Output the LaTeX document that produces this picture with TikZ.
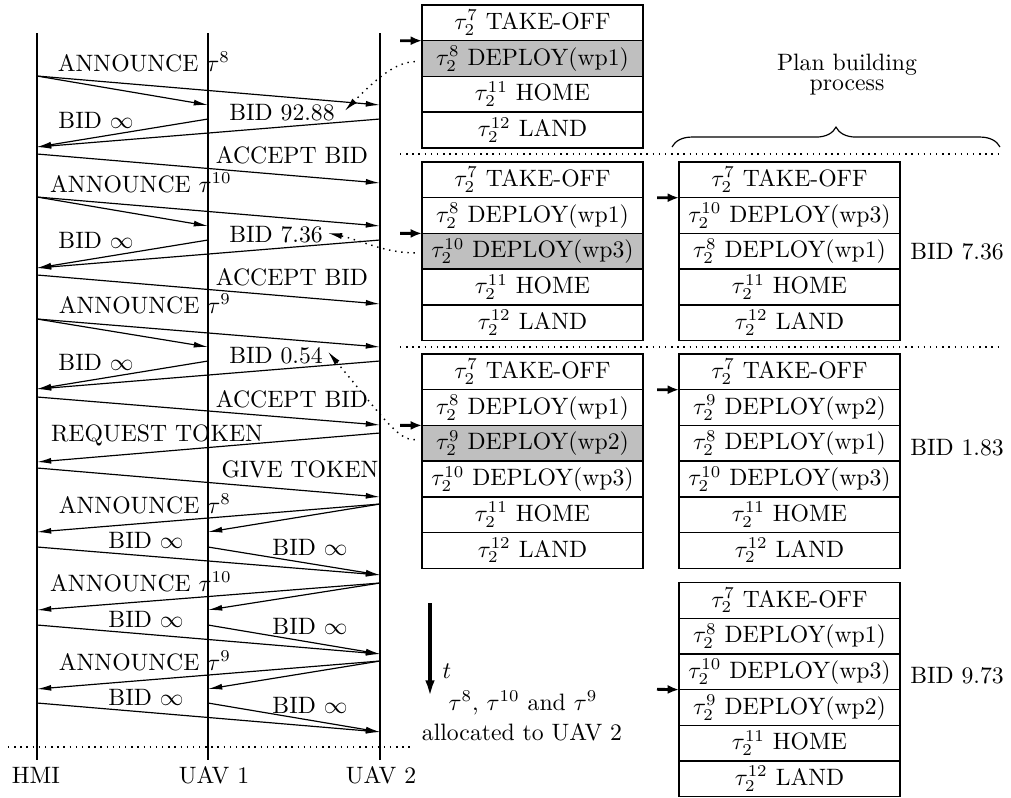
\documentclass[tikz,border=0pt]{standalone}
\usetikzlibrary{arrows.meta,decorations.pathreplacing}
\definecolor{cellgray}{gray}{0.75}
\begin{document}
\begin{tikzpicture}[x=0.422pt,y=-0.422pt,
  msg/.style={-{Latex[length=6pt,width=2.5pt]}, line width=0.5pt},
  life/.style={line width=0.5pt},
  lbl/.style={anchor=base, inner sep=0pt},
  row/.style={minimum width=93.26pt, minimum height=12pt, inner sep=0pt, outer sep=0pt},
  grid/.style={line width=0.6pt},
  ptr/.style={-{Latex[length=4.8pt,width=3.8pt]}, line width=1.2pt},
  sep/.style={dotted, line width=0.6pt},
  link/.style={dotted, line width=0.6pt, -{Latex[length=6pt,width=2.6pt]}},
  tarrow/.style={-{Latex[length=7pt,width=4pt]}, line width=1.4pt}
]
\useasboundingbox (0,0) rectangle (1011,797);

% lifelines
\coordinate (Htop) at (37,33);   \coordinate (Hbot) at (37,760);
\coordinate (U1top) at (208,33); \coordinate (U1bot) at (208,760);
\coordinate (U2top) at (380,33); \coordinate (U2bot) at (380,760);
\draw[life] (Htop) -- (Hbot);
\draw[life] (U1top) -- (U1bot);
\draw[life] (U2top) -- (U2bot);
\node[lbl] (nH) at (36,783) {HMI};
\node[lbl] (nU1) at (214,783) {UAV 1};
\node[lbl] (nU2) at (381,783) {UAV 2};

% messages
\foreach \n/\xa/\ya/\xb/\yb in {
  1/37/76/208/105, 2/37/76/380/105,
  3/208/119/37/147, 4/380/119/37/147,
  5/37/154/380/183,
  6/37/197/208/226, 7/37/197/380/226,
  8/208/240/37/268, 9/380/240/37/268,
  10/37/275/380/304,
  11/37/319/208/347, 12/37/319/380/347,
  13/208/361/37/389, 14/380/361/37/389,
  15/37/397/380/425,
  16/380/433/37/462,
  17/37/468/380/497,
  18/380/504/37/532, 19/380/504/208/532,
  20/37/547/380/575, 21/208/547/380/575,
  22/380/583/37/610, 23/380/583/208/610,
  24/37/625/380/654, 25/208/625/380/654,
  26/380/661/37/689, 27/380/661/208/689,
  28/37/703/380/732, 29/208/703/380/732}
{
  \coordinate (s\n) at (\xa,\ya);
  \coordinate (e\n) at (\xb,\yb);
  \draw[msg] (s\n) -- (e\n);
}

% message labels
\node[lbl] (m1) at (144,71) {ANNOUNCE $\tau^{8}$};
\node[lbl] (m2) at (96,128) {BID $\infty$};
\node[lbl] (bidA) at (282,120) {BID 92.88};
\node[lbl] (m3) at (292,163) {ACCEPT BID};
\node[lbl] (m4) at (141,192) {ANNOUNCE $\tau^{10}$};
\node[lbl] (m5) at (96,248) {BID $\infty$};
\node[lbl] (bidB) at (276,242) {BID 7.36};
\node[lbl] (m6) at (292,285) {ACCEPT BID};
\node[lbl] (m7) at (145,313) {ANNOUNCE $\tau^{9}$};
\node[lbl] (m8) at (96,370) {BID $\infty$};
\node[lbl] (bidC) at (276,363) {BID 0.54};
\node[lbl] (m9) at (292,407) {ACCEPT BID};
\node[lbl] (m10) at (157,441) {REQUEST TOKEN};
\node[lbl] (m11) at (300,477) {GIVE TOKEN};
\node[lbl] (m12) at (145,513) {ANNOUNCE $\tau^{8}$};
\node[lbl] (m13) at (146,548) {BID $\infty$};
\node[lbl] (m14) at (310,555) {BID $\infty$};
\node[lbl] (m15) at (141,591) {ANNOUNCE $\tau^{10}$};
\node[lbl] (m16) at (146,627) {BID $\infty$};
\node[lbl] (m17) at (310,634) {BID $\infty$};
\node[lbl] (m18) at (145,670) {ANNOUNCE $\tau^{9}$};
\node[lbl] (m19) at (146,705) {BID $\infty$};
\node[lbl] (m20) at (310,713) {BID $\infty$};

% separators
\draw[sep] (400,154) -- (1000,154);
\draw[sep] (400,347) -- (1000,347);
\draw[sep] (8,747) -- (410,747);

% table frames: x0 / top / rows / shaded row (0 = none)
\def\rh{35.7}
\foreach \xo/\yo/\nr/\hr in {422/5/4/2, 422/162/5/3, 679/162/5/0, 422/354/6/3, 679/354/6/0, 679/582.5/6/0}
{
  \ifnum\hr>0
    \fill[cellgray] (\xo,\yo+\rh*\hr-\rh) rectangle (\xo+221,\yo+\rh*\hr);
  \fi
  \draw[grid] (\xo,\yo) rectangle (\xo+221,\yo+\rh*\nr);
  \foreach \k in {1,...,\nr} { \draw[grid] (\xo,\yo+\rh*\k) -- (\xo+221,\yo+\rh*\k); }
}

% table 1
\node[row] (A1) at (532.5,22.85)  {$\tau_2^{7}$ TAKE-OFF};
\node[row] (A2) at (532.5,58.55)  {$\tau_2^{8}$ DEPLOY(wp1)};
\node[row] (A3) at (532.5,94.25)  {$\tau_2^{11}$ HOME};
\node[row] (A4) at (532.5,129.95) {$\tau_2^{12}$ LAND};

% table 2
\node[row] (B1) at (532.5,179.85) {$\tau_2^{7}$ TAKE-OFF};
\node[row] (B2) at (532.5,215.55) {$\tau_2^{8}$ DEPLOY(wp1)};
\node[row] (B3) at (532.5,251.25) {$\tau_2^{10}$ DEPLOY(wp3)};
\node[row] (B4) at (532.5,286.95) {$\tau_2^{11}$ HOME};
\node[row] (B5) at (532.5,322.65) {$\tau_2^{12}$ LAND};

% table 3
\node[row] (C1) at (789.5,179.85) {$\tau_2^{7}$ TAKE-OFF};
\node[row] (C2) at (789.5,215.55) {$\tau_2^{10}$ DEPLOY(wp3)};
\node[row] (C3) at (789.5,251.25) {$\tau_2^{8}$ DEPLOY(wp1)};
\node[row] (C4) at (789.5,286.95) {$\tau_2^{11}$ HOME};
\node[row] (C5) at (789.5,322.65) {$\tau_2^{12}$ LAND};

% table 4
\node[row] (D1) at (532.5,371.85) {$\tau_2^{7}$ TAKE-OFF};
\node[row] (D2) at (532.5,407.55) {$\tau_2^{8}$ DEPLOY(wp1)};
\node[row] (D3) at (532.5,443.25) {$\tau_2^{9}$ DEPLOY(wp2)};
\node[row] (D4) at (532.5,478.95) {$\tau_2^{10}$ DEPLOY(wp3)};
\node[row] (D5) at (532.5,514.65) {$\tau_2^{11}$ HOME};
\node[row] (D6) at (532.5,550.35) {$\tau_2^{12}$ LAND};

% table 5
\node[row] (E1) at (789.5,371.85) {$\tau_2^{7}$ TAKE-OFF};
\node[row] (E2) at (789.5,407.55) {$\tau_2^{9}$ DEPLOY(wp2)};
\node[row] (E3) at (789.5,443.25) {$\tau_2^{8}$ DEPLOY(wp1)};
\node[row] (E4) at (789.5,478.95) {$\tau_2^{10}$ DEPLOY(wp3)};
\node[row] (E5) at (789.5,514.65) {$\tau_2^{11}$ HOME};
\node[row] (E6) at (789.5,550.35) {$\tau_2^{12}$ LAND};

% table 6
\node[row] (F1) at (789.5,600.35) {$\tau_2^{7}$ TAKE-OFF};
\node[row] (F2) at (789.5,636.05) {$\tau_2^{8}$ DEPLOY(wp1)};
\node[row] (F3) at (789.5,671.75) {$\tau_2^{10}$ DEPLOY(wp3)};
\node[row] (F4) at (789.5,707.45) {$\tau_2^{9}$ DEPLOY(wp2)};
\node[row] (F5) at (789.5,743.15) {$\tau_2^{11}$ HOME};
\node[row] (F6) at (789.5,778.85) {$\tau_2^{12}$ LAND};

% insertion pointers (tip on the upper edge of the inserted row)
\coordinate (pA) at (400,40.7);  \draw[ptr] (pA) -- ([yshift=7.53pt]A2.west);
\coordinate (pB) at (400,233.4); \draw[ptr] (pB) -- ([yshift=7.53pt]B3.west);
\coordinate (pC) at (657,197.7); \draw[ptr] (pC) -- ([yshift=7.53pt]C2.west);
\coordinate (pD) at (400,425.4); \draw[ptr] (pD) -- ([yshift=7.53pt]D3.west);
\coordinate (pE) at (657,389.7); \draw[ptr] (pE) -- ([yshift=7.53pt]E2.west);
\coordinate (pF) at (657,689.3); \draw[ptr] (pF) -- ([yshift=7.53pt]F4.west);

% dotted links
\draw[link] ([xshift=-3pt,yshift=-1.3pt]A2.west) .. controls (395,62) and (375,80) .. ([xshift=4pt,yshift=0.5pt]bidA.east);
\draw[link] ([xshift=-3pt,yshift=-0.7pt]B3.west) .. controls (385,253) and (360,240) .. ([xshift=2pt,yshift=0.5pt]bidB.east);
\draw[link] ([xshift=-3pt,yshift=1.5pt]D3.west) .. controls (398,440) and (385,420) .. ([xshift=2pt,yshift=1.5pt]bidC.east);

% brace and caption
\coordinate (brL) at (672,147); \coordinate (brR) at (1000,147);
\draw[line width=0.5pt, decorate, decoration={brace, amplitude=8.4pt}] (brL) -- (brR);
\node[lbl] (pb1) at (847,70) {Plan building};
\node[lbl] (pb2) at (847,90) {process};

% bids of built plans
\node[lbl] (r1) at (957,259) {BID 7.36};
\node[lbl] (r2) at (957,455) {BID 1.83};
\node[lbl] (r3) at (957,683) {BID 9.73};

% time arrow
\coordinate (t0) at (430,603); \coordinate (t1) at (430,697);
\draw[tarrow] (t0) -- (t1);
\node[lbl] (tl) at (447,678) {$t$};
\node[lbl] (al1) at (523,710) {$\tau^{8}$, $\tau^{10}$ and $\tau^{9}$};
\node[lbl] (al2) at (522,740) {allocated to UAV 2};
\end{tikzpicture}
\end{document}
